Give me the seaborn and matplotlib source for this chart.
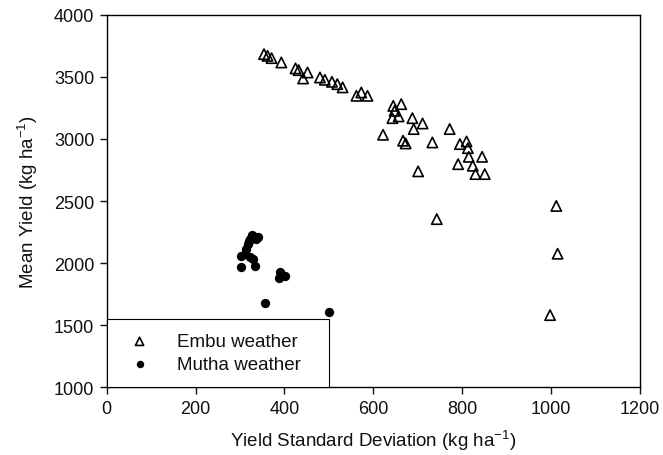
import seaborn as sns
import matplotlib.pyplot as plt

# Embu weather (open triangles)
embu_sd = [354, 362, 371, 393, 425, 432, 452, 442, 480, 491, 507, 519, 531,
           562, 573, 587, 645, 663, 648, 643, 657, 688, 711, 691, 622, 667,
           673, 733, 772, 795, 810, 813, 815, 845, 791, 824, 830, 851, 701,
           743, 1012, 1015, 998]
embu_mean = [3684, 3670, 3652, 3617, 3569, 3555, 3536, 3488, 3496, 3477, 3461,
             3442, 3416, 3348, 3375, 3348, 3267, 3281, 3227, 3168, 3182, 3168,
             3125, 3080, 3034, 2986, 2964, 2972, 3080, 2959, 2980, 2926, 2856,
             2856, 2797, 2784, 2717, 2717, 2739, 2354, 2460, 2075, 1580]

# Mutha weather (filled circles)
mutha_sd = [333, 340, 328, 323, 318, 313, 303, 311, 323, 329, 303, 333, 389,
            401, 387, 356, 500, 320, 336]
mutha_mean = [2211, 2206, 2225, 2193, 2153, 2112, 2058, 2072, 2045, 2032, 1965,
              1978, 1925, 1897, 1879, 1675, 1602, 2180, 2190]

sns.set_style("ticks")
plt.rcParams['font.family'] = ['Liberation Sans', 'DejaVu Sans']
plt.rcParams['mathtext.default'] = 'regular'
plt.rcParams['text.color'] = '#111111'
plt.rcParams['axes.labelcolor'] = '#111111'
plt.rcParams['xtick.color'] = '#111111'
plt.rcParams['ytick.color'] = '#111111'

fig = plt.figure(figsize=(6.63, 4.56), dpi=100)
ax = fig.add_axes([0.161, 0.149, 0.804, 0.816])

sns.scatterplot(x=embu_sd, y=embu_mean, marker='^', s=55, facecolor='none',
                edgecolor='black', linewidth=1.2, label='Embu weather', ax=ax)
sns.scatterplot(x=mutha_sd, y=mutha_mean, marker='o', s=45, color='black',
                edgecolor='black', linewidth=0, label='Mutha weather', ax=ax)

ax.set_xlim(0, 1200)
ax.set_ylim(1000, 4000)
ax.set_xticks(range(0, 1201, 200))
ax.set_yticks(range(1000, 4001, 500))
ax.tick_params(direction='out', length=5, width=1, labelsize=13, pad=4)
for sp in ax.spines.values():
    sp.set_visible(True)
    sp.set_linewidth(1)
    sp.set_color('black')

ax.set_xlabel('Yield Standard Deviation (kg ha$^{-1}$)', fontsize=13.5,
              labelpad=8)
ax.set_ylabel('Mean Yield (kg ha$^{-1}$)', fontsize=13.5, labelpad=10)

leg = ax.legend(loc='lower left', bbox_to_anchor=(0, 0, 0.4167, 0.18),
                mode='expand', borderaxespad=0, fancybox=False,
                edgecolor='black', framealpha=1, fontsize=13.5,
                scatterpoints=1, markerscale=0.8, borderpad=0.75,
                labelspacing=0.3, handletextpad=1.0)
leg.get_frame().set_linewidth(0.8)

plt.savefig('out.png', dpi=100)
